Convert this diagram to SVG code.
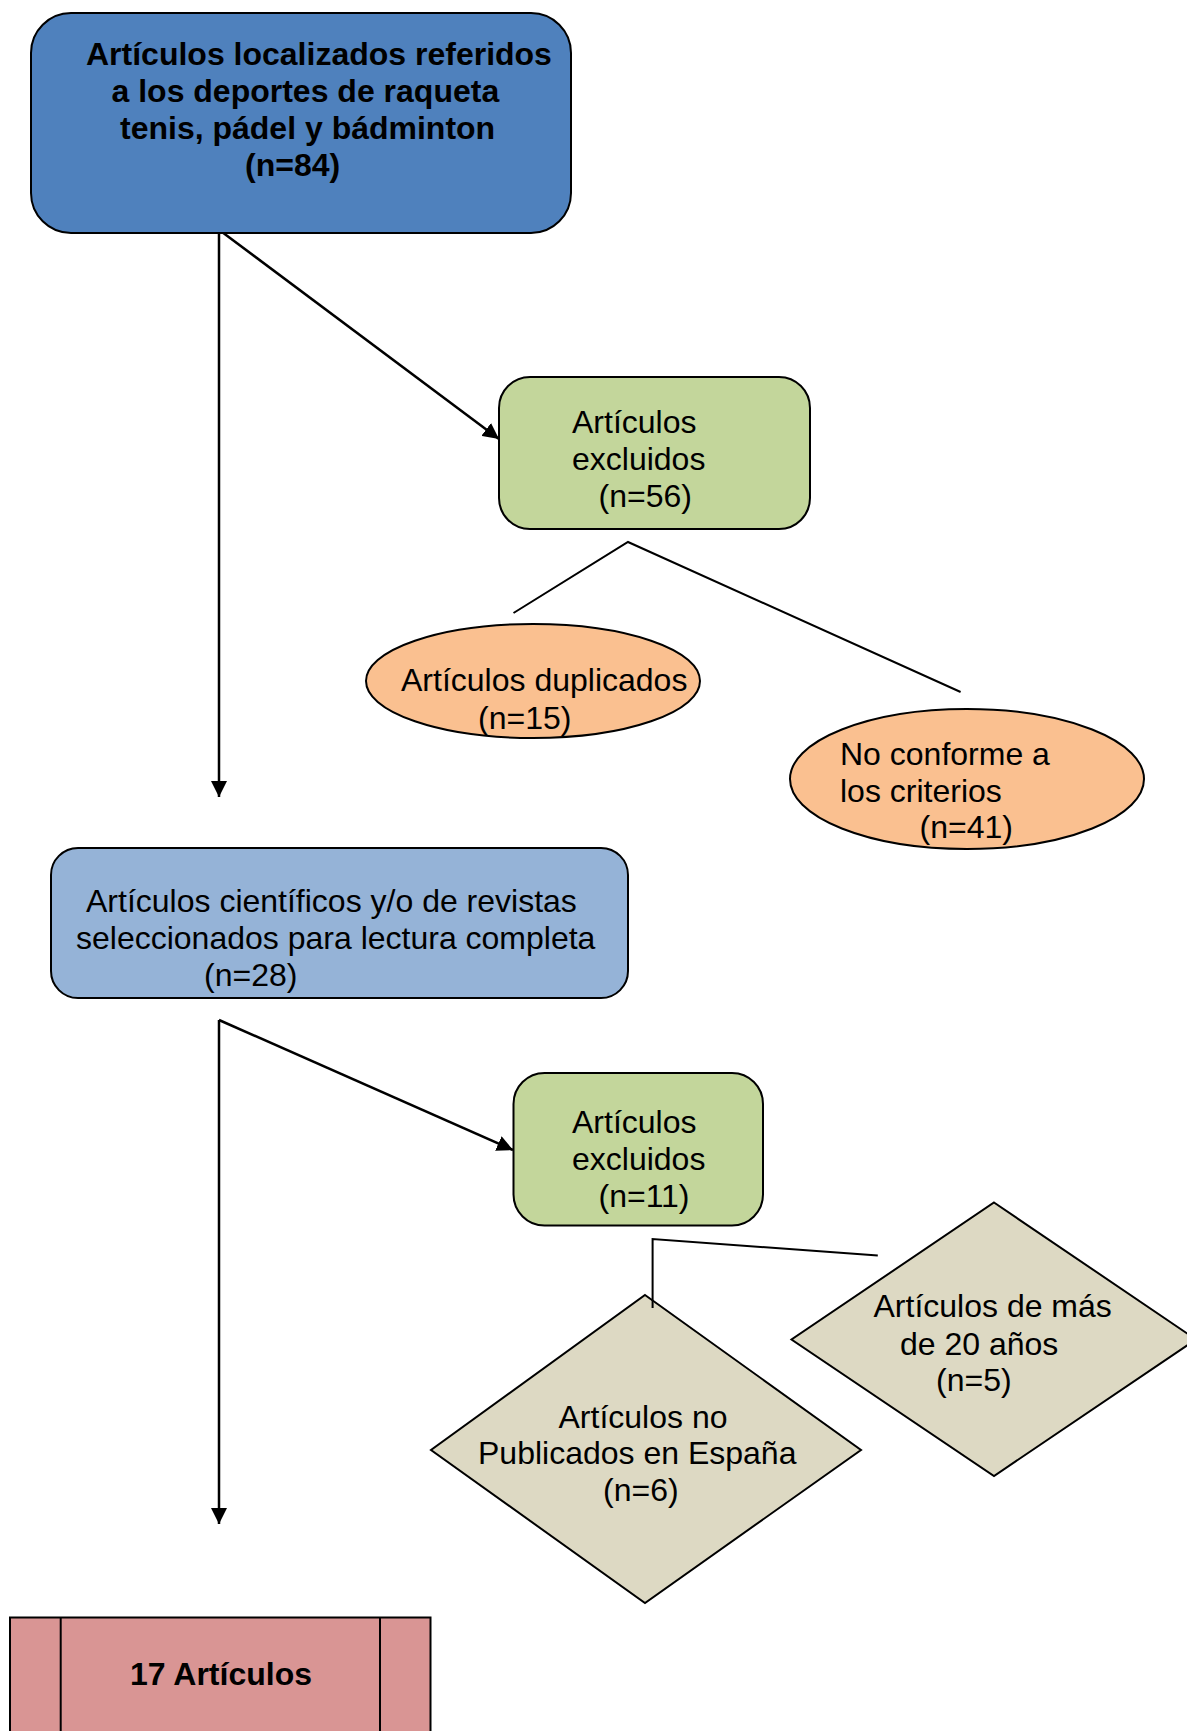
<svg xmlns="http://www.w3.org/2000/svg" width="1187" height="1731" viewBox="0 0 1187 1731">
<style>
.t{font-family:"Liberation Sans",Arial,sans-serif;font-size:32px;fill:#000}
.b{font-weight:bold}
.n{stroke:#000;stroke-width:2}
.c{stroke:#000;stroke-width:2;fill:none}
.a{stroke:#000;stroke-width:2.5;fill:none}
</style>
<defs>
<marker id="ah2" viewBox="0 0 10 10" refX="10" refY="5" markerWidth="16" markerHeight="16" markerUnits="userSpaceOnUse" orient="auto" preserveAspectRatio="none">
<path d="M0,0 L10,5 L0,10 z" fill="#000"/>
</marker>
</defs>
<rect width="1187" height="1731" fill="#fff"/>
<g id="connectors">
<line class="a" x1="219" y1="232" x2="219" y2="797" marker-end="url(#ah2)"/>
<line class="a" x1="222" y1="232" x2="499" y2="439" marker-end="url(#ah2)"/>
<polyline class="c" points="513.5,613 628,542 960.6,692"/>
<line class="a" x1="219" y1="1020" x2="219" y2="1524" marker-end="url(#ah2)"/>
<line class="a" x1="219" y1="1020" x2="513" y2="1150" marker-end="url(#ah2)"/>
</g>
<g id="n1">
<rect class="n" x="31" y="13" width="540" height="220" rx="40" fill="#4f81bd"/>
<text class="t b" x="86" y="65">Artículos localizados referidos</text>
<text class="t b" x="111.5" y="102">a los deportes de raqueta</text>
<text class="t b" x="120" y="139">tenis, pádel y bádminton</text>
<text class="t b" x="245" y="176">(n=84)</text>
</g>
<g id="n2">
<rect class="n" x="499" y="377" width="311" height="152" rx="31" fill="#c3d69b"/>
<text class="t" x="572" y="433">Artículos</text>
<text class="t" x="572" y="470">excluidos</text>
<text class="t" x="598.5" y="507">(n=56)</text>
</g>
<g id="n3">
<ellipse class="n" cx="533" cy="681" rx="167" ry="57" fill="#fac090"/>
<text class="t" x="401" y="691">Artículos duplicados</text>
<text class="t" x="478" y="729">(n=15)</text>
</g>
<g id="n4">
<ellipse class="n" cx="967" cy="779" rx="177" ry="70" fill="#fac090"/>
<text class="t" x="840" y="765">No conforme a</text>
<text class="t" x="840" y="802">los criterios</text>
<text class="t" x="919.5" y="838">(n=41)</text>
</g>
<g id="n5">
<rect class="n" x="51" y="848" width="577" height="150" rx="27" fill="#95b3d7"/>
<text class="t" x="86" y="912">Artículos científicos y/o de revistas</text>
<text class="t" x="76" y="949">seleccionados para lectura completa</text>
<text class="t" x="204" y="986">(n=28)</text>
</g>
<g id="n6">
<rect class="n" x="513.5" y="1073" width="249.5" height="152.5" rx="31" fill="#c3d69b"/>
<text class="t" x="572" y="1133">Artículos</text>
<text class="t" x="572" y="1170">excluidos</text>
<text class="t" x="598.5" y="1207">(n=11)</text>
</g>
<g id="n7">
<polygon class="n" points="645,1295 861,1450 645,1603 431,1450" fill="#ddd9c3"/>
<text class="t" x="558.5" y="1428">Artículos no</text>
<text class="t" x="478" y="1464">Publicados en España</text>
<text class="t" x="603" y="1501">(n=6)</text>
</g>
<g id="n8">
<polygon class="n" points="994,1202.5 1196,1339.5 994,1476 791.5,1339.5" fill="#ddd9c3"/>
<text class="t" x="873.5" y="1317">Artículos de más</text>
<text class="t" x="900" y="1355">de 20 años</text>
<text class="t" x="936" y="1391">(n=5)</text>
</g>
<g id="connectors2">
<polyline class="c" points="652.6,1308 652.6,1239 877.8,1255.5"/>
</g>
<g id="n9">
<rect class="n" x="10" y="1617.5" width="420.5" height="130" fill="#d99594"/>
<line class="c" x1="60.7" y1="1617.5" x2="60.7" y2="1731"/>
<line class="c" x1="380" y1="1617.5" x2="380" y2="1731"/>
<text class="t b" x="130" y="1685">17 Artículos</text>
</g>
</svg>
